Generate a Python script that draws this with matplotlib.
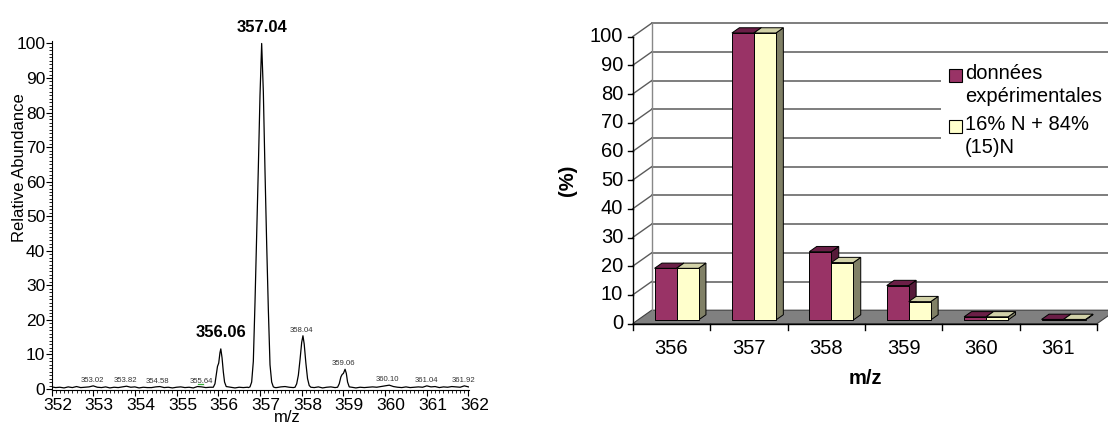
import numpy as np
import matplotlib
matplotlib.use('Agg')
import matplotlib.pyplot as plt
from matplotlib.patches import Polygon, Rectangle
from matplotlib.transforms import ScaledTranslation

plt.rcParams['font.family'] = ['Liberation Sans', 'DejaVu Sans']

# ---------------- left panel: mass spectrum ----------
# baseline noise, one value every 0.1 m/z from 352.0 to 362.0
base_start, base_step = 352.0, 0.1
base_int = [0.6, 0.4, 0.5, 0.3, 0.6, 0.4, 0.7, 0.4, 0.5, 0.6,
            0.9, 0.5, 0.4, 0.6, 0.3, 0.5, 0.4, 0.6, 0.8, 0.5,
            0.6, 0.3, 0.5, 0.4, 0.4, 0.6, 0.7, 0.4, 0.5, 0.3,
            0.5, 0.6, 0.4, 0.5, 0.3, 0.7, 0.6, 0.4, 0.5, 0.6,
            0.5, 0.5, 0.4, 0.5, 0.3, 0.5, 0.4, 0.5, 0.5, 0.5,
            0.5, 0.5, 0.5, 0.5, 0.4, 0.6, 0.7, 0.5, 0.4, 0.5,
            0.5, 0.5, 0.5, 0.4, 0.6, 0.3, 0.5, 0.6, 0.4, 0.5,
            0.5, 0.5, 0.5, 0.3, 0.5, 0.4, 0.5, 0.6, 0.5, 0.7,
            0.9, 1.1, 0.7, 0.5, 0.4, 0.6, 0.4, 0.5, 0.6, 0.5,
            0.9, 0.6, 0.7, 0.4, 0.6, 0.5, 0.7, 0.6, 0.5, 0.9,
            0.6]

# peak profiles
p356_mz = [355.88, 355.92, 355.95, 355.98, 356.01, 356.04, 356.06, 356.09, 356.12, 356.15, 356.19]
p356_int = [0.5, 1.5, 4.0, 6.5, 7.5, 10.5, 11.6, 9.0, 5.0, 2.0, 0.7]
p357_mz = [356.72, 356.76, 356.80, 356.84, 356.88, 356.92, 356.96, 357.00, 357.04,
           357.08, 357.12, 357.16, 357.20, 357.24, 357.28, 357.32, 357.36]
p357_int = [0.4, 0.6, 2.0, 8.0, 25.0, 44.0, 64.0, 85.0, 100.0,
            86.0, 63.0, 42.0, 23.0, 7.0, 2.0, 0.6, 0.4]
p358_mz = [357.84, 357.88, 357.92, 357.96, 358.00, 358.03, 358.06, 358.10, 358.14, 358.18, 358.22]
p358_int = [0.5, 1.5, 4.0, 8.5, 13.5, 15.4, 13.0, 7.5, 3.0, 1.0, 0.5]
p359_mz = [358.86, 358.90, 358.94, 358.97, 359.00, 359.04, 359.07, 359.10, 359.14]
p359_int = [0.5, 1.5, 3.5, 4.2, 4.5, 5.7, 4.5, 2.0, 0.6]

small_labels = ['353.02', '353.82', '354.58', '355.64', '358.04', '359.06',
                '360.10', '361.04', '361.92']
big_labels = ['356.06', '357.04']
green_mz = [355.52, 355.64]
green_int = [1.3, 1.3]

# ---------------- right panel: 3D bar chart ----------------
categories = ['356', '357', '358', '359', '360', '361']
experimental = [18.0, 100.0, 23.8, 12.0, 1.1, 0.2]
theoretical = [18.0, 100.0, 20.0, 6.4, 1.1, 0.2]
series_names = ['données\nexpérimentales', '16% N + 84%\n(15)N']

W, H = 1108, 424
fig = plt.figure(figsize=(W / 100, H / 100), dpi=100)


def px_rect(x0, y0, x1, y1):
    return [x0 / W, 1 - y1 / H, (x1 - x0) / W, (y1 - y0) / H]


# ---- left panel ----
peaks = [(p356_mz, p356_int), (p357_mz, p357_int), (p358_mz, p358_int), (p359_mz, p359_int)]
base_mz = base_start + base_step * np.arange(len(base_int))
keep = np.ones(len(base_mz), bool)
for pm, _ in peaks:
    keep &= ~((base_mz >= pm[0] - 0.01) & (base_mz <= pm[-1] + 0.01))
mz = np.concatenate([base_mz[keep]] + [np.array(pm) for pm, _ in peaks])
inten = np.concatenate([np.array(base_int)[keep]] + [np.array(pi) for _, pi in peaks])
order = np.argsort(mz)
mz, inten = mz[order], inten[order]

ax1 = fig.add_axes(px_rect(51.5, 41.4, 468.5, 390))
ax1.plot(mz, inten, color='black', lw=0.9)
ax1.plot(green_mz, green_int, color='#33aa33', lw=0.9)
ax1.set_xlim(352, 362)
ax1.set_ylim(-0.3, 100.6)
ax1.set_xticks(np.arange(352, 363, 1))
ax1.set_xticks(np.arange(352, 362.01, 0.1), minor=True)
ax1.set_yticks(np.arange(0, 101, 10))
ax1.set_yticks(np.arange(0, 101, 1), minor=True)
ax1.spines['top'].set_visible(False)
ax1.spines['right'].set_visible(False)
ax1.tick_params(axis='both', which='major', labelsize=12.5, length=4, width=0.8, direction='out')
ax1.tick_params(axis='both', which='minor', length=2, width=0.6, direction='out')
ax1.tick_params(axis='y', pad=0.5)
ax1.tick_params(axis='x', pad=2)
shift = ScaledTranslation(6 / 100, 0, fig.dpi_scale_trans)
for lab in ax1.get_xticklabels():
    lab.set_transform(lab.get_transform() + shift)

for lab in small_labels + big_labels:
    x = float(lab)
    win = (mz > x - 0.12) & (mz < x + 0.12)
    top = inten[win].max()
    if lab in big_labels:
        ax1.annotate(lab, (x, top), xytext=(0, 16), textcoords='offset pixels',
                     ha='center', va='center', fontsize=12, fontweight='bold',
                     annotation_clip=False)
    else:
        ax1.annotate(lab, (x, top), xytext=(-2, 5.5), textcoords='offset pixels',
                     ha='center', va='center', fontsize=5.6, color='#333333')

fig.text(20 / W, 1 - 168 / H, 'Relative Abundance', rotation=90, ha='center',
         va='center', fontsize=12)
fig.text(287 / W, 1 - 418 / H, 'm/z', ha='center', va='center', fontsize=12)

# ---- right panel (pseudo 3D, drawn in value units) ----
SX, SY = 77.4, 2.87            # pixels per category / per percent
X0, Y0 = 632.7, 323.6          # front origin in pixels
ax2 = fig.add_axes(px_rect(540, 0, 1108, 424))
ax2.set_xlim((540 - X0) / SX, (1108 - X0) / SX)
ax2.set_ylim(-(424 - Y0) / SY, Y0 / SY)
ax2.axis('off')

n = len(categories)
DX, DY = 19 / SX, 13.4 / SY    # wall depth
grid_c = '#5a5a5a'

# floor
ax2.add_patch(Polygon([(0, 0), (n, 0), (n + DX, DY), (DX, DY)], closed=True,
                      facecolor='#808080', edgecolor='#404040', lw=0.8, zorder=1,
                      clip_on=False))
# back wall gridlines and side wall
for v in range(10, 101, 10):
    ax2.plot([DX, n + DX + 1], [DY + v, DY + v], color=grid_c, lw=1.1, zorder=1)
    ax2.plot([0, DX], [v, DY + v], color=grid_c, lw=1.0, zorder=1)
ax2.plot([DX, DX], [DY, DY + 100], color='#888888', lw=1.0, zorder=1)
# front value axis
ax2.plot([0, 0], [0, 100], color='black', lw=1.0, zorder=3)
for v in range(0, 101, 10):
    ax2.plot([-5 / SX, 0], [v, v], color='black', lw=1.0, zorder=3)
    ax2.text(-9.5 / SX, v, str(v), ha='right', va='center', fontsize=14.5)
# category axis
ax2.plot([0, n], [0, 0], color='black', lw=1.0, zorder=3)
for i in range(n + 1):
    ax2.plot([i, i], [0, -6.7 / SY], color='black', lw=1.0, zorder=3)
for i, c in enumerate(categories):
    ax2.text(i + 0.5, -(348.3 - Y0) / SY, c, ha='center', va='center', fontsize=14.5)
ax2.text(n / 2, -(379 - Y0) / SY, 'm/z', ha='center', va='center', fontsize=14.5,
         fontweight='bold')
ax2.text((568 - X0) / SX, (Y0 - 180) / SY, '(%)', rotation=90, ha='center',
         va='center', fontsize=14.5, fontweight='bold')

# bars
ox, oy = 0.27 * DX, 0.27 * DY
dx, dy = 0.39 * DX, 0.39 * DY
bw = 22 / SX
styles = [('#993366', '#6b1f47', '#561a39'), ('#ffffcc', '#d2d2a8', '#808066')]
z = 4
for i in range(n):
    c = i + 0.5 + ox
    for k, vals in enumerate([experimental, theoretical]):
        front, topc, sidec = styles[k]
        v = vals[i]
        x0 = c - bw if k == 0 else c
        x1 = x0 + bw
        ax2.add_patch(Polygon([(x1, oy), (x1 + dx, oy + dy), (x1 + dx, oy + v + dy), (x1, oy + v)],
                              facecolor=sidec, edgecolor='black', lw=0.7, zorder=z))
        ax2.add_patch(Polygon([(x0, oy + v), (x1, oy + v), (x1 + dx, oy + v + dy), (x0 + dx, oy + v + dy)],
                              facecolor=topc, edgecolor='black', lw=0.7, zorder=z))
        ax2.add_patch(Rectangle((x0, oy), bw, v, facecolor=front, edgecolor='black',
                                lw=0.7, zorder=z))
        z += 1

# legend (white box hides the gridlines behind it)
ax2.add_patch(Rectangle(((941 - X0) / SX, (Y0 - 160) / SY), 3, (160 - 56) / SY,
                        facecolor='white', edgecolor='none', zorder=2, clip_on=False))
leg_sq_y = [(Y0 - 81.7) / SY, (Y0 - 132.7) / SY]
leg_txt_y = [(Y0 - 85) / SY, (Y0 - 136.2) / SY]
for k, name in enumerate(series_names):
    ax2.add_patch(Rectangle(((949.3 - X0) / SX, leg_sq_y[k]), 12.4 / SX, 12.4 / SY,
                            facecolor=styles[k][0], edgecolor='black', lw=0.8, zorder=3))
    ax2.text((965 - X0) / SX, leg_txt_y[k], name, ha='left', va='center',
             fontsize=14.5, linespacing=1.25, zorder=3)

fig.savefig('out.png', dpi=100)
